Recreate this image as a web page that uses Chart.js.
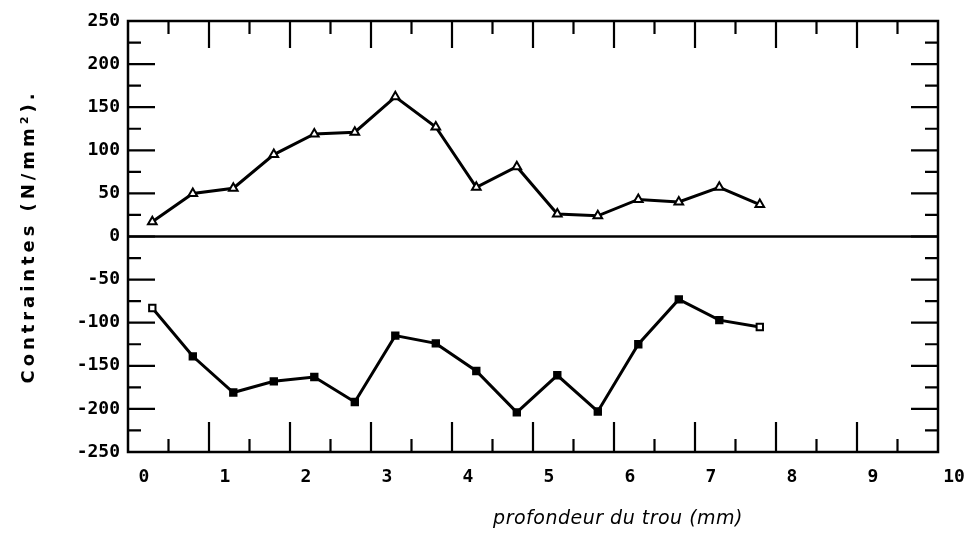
<!DOCTYPE html>
<html lang="fr">
<head>
  <meta charset="UTF-8">
  <title>Contraintes - profondeur du trou</title>
  <script src="https://cdn.jsdelivr.net/npm/chart.js"></script>
  <style>
    html, body { margin: 0; padding: 0; background: #fff; }
    #wrap { width: 966px; height: 537px; }
  </style>
</head>
<body>
  <div id="wrap"><canvas id="graphe" width="966" height="537"></canvas></div>

  <script>
    // valeurs
    const profondeur = [0.3, 0.8, 1.3, 1.8, 2.3, 2.8, 3.3, 3.8, 4.3, 4.8, 5.3, 5.8, 6.3, 6.8, 7.3, 7.8];
    const contraintesHaut = [17, 50, 56, 95, 119, 121, 162, 127, 57, 81, 26, 24, 43, 40, 57, 37];
    const contraintesBas = [-83, -139, -181, -168, -163, -192, -115, -124, -156, -204, -161, -203, -125, -73, -97, -105];
    const xMin = 0, xMax = 10, xPas = 1;
    const yMin = -250, yMax = 250, yPas = 50;
    const titreX = "profondeur du trou (mm)";
    const titreY = "Contraintes (N/mm²).";

    const points = (ys) => profondeur.map((x, i) => ({ x: x, y: ys[i] }));

    // cadre, petites graduations vers l'intérieur, ligne du zéro et titres
    const cadre = {
      id: "cadre",
      beforeDatasetsDraw(chart) {
        const { ctx, chartArea: a, scales } = chart;
        const sx = scales.x, sy = scales.y;
        ctx.save();
        ctx.strokeStyle = "#000";
        ctx.lineCap = "butt";

        ctx.lineWidth = 2.5;
        ctx.strokeRect(a.left, a.top, a.right - a.left, a.bottom - a.top);

        ctx.lineWidth = 2.5;
        const y0 = sy.getPixelForValue(0);
        ctx.beginPath();
        ctx.moveTo(a.left, y0); ctx.lineTo(a.right, y0);
        ctx.stroke();

        ctx.lineWidth = 2.2;
        ctx.beginPath();
        for (let v = yMin + yPas / 2; v < yMax; v += yPas / 2) {
          const p = sy.getPixelForValue(v);
          const long = (v % yPas === 0) ? 27 : 13;
          ctx.moveTo(a.left, p); ctx.lineTo(a.left + long, p);
          ctx.moveTo(a.right, p); ctx.lineTo(a.right - long, p);
        }
        for (let v = xMin + xPas / 2; v < xMax; v += xPas / 2) {
          const p = sx.getPixelForValue(v);
          const maj = (v % xPas === 0);
          ctx.moveTo(p, a.top); ctx.lineTo(p, a.top + (maj ? 27 : 13));
          ctx.moveTo(p, a.bottom); ctx.lineTo(p, a.bottom - (maj ? 30 : 13));
        }
        ctx.stroke();

        ctx.fillStyle = "#000";
        ctx.textBaseline = "middle";
        ctx.textAlign = "center";

        ctx.font = "italic 19px 'DejaVu Sans'";
        ctx.letterSpacing = "0.5px";
        ctx.fillText(titreX, sx.getPixelForValue(6.05), 519);

        ctx.translate(29, (a.top + a.bottom) / 2);
        ctx.rotate(-Math.PI / 2);
        ctx.font = "bold 18px 'DejaVu Sans'";
        ctx.letterSpacing = "0px";
        const w = ctx.measureText(titreY).width;
        const esp = Math.max(0, (290 - w) / (titreY.length - 1));
        ctx.letterSpacing = esp + "px";
        ctx.fillText(titreY, 0, 0);
        ctx.restore();
      }
    };

    const ctx = document.getElementById("graphe").getContext("2d");
    const graphe = new Chart(ctx, {
      type: "line",
      data: {
        datasets: [
          {
            label: "haut",
            data: points(contraintesHaut),
            borderColor: "#000",
            borderWidth: 3,
            pointStyle: "triangle",
            pointRadius: 5,
            pointBorderWidth: 2,
            pointBorderColor: "#000",
            pointBackgroundColor: "#fff",
            tension: 0
          },
          {
            label: "bas",
            data: points(contraintesBas),
            borderColor: "#000",
            borderWidth: 3,
            pointStyle: "rect",
            pointRadius: 4.5,
            pointBorderWidth: 2,
            pointBorderColor: "#000",
            pointBackgroundColor: (c) => (c.dataIndex === 0 || c.dataIndex === profondeur.length - 1) ? "#fff" : "#000",
            tension: 0
          }
        ]
      },
      options: {
        responsive: false,
        animation: false,
        layout: { padding: { top: 21, right: 28, left: 0, bottom: 0 } },
        plugins: {
          legend: { display: false },
          tooltip: { enabled: false }
        },
        scales: {
          x: {
            type: "linear",
            min: xMin,
            max: xMax,
            grid: { display: false, drawTicks: false },
            border: { display: false },
            ticks: {
              stepSize: xPas,
              padding: 15,
              labelOffset: 16,
              color: "#000",
              font: { family: "'DejaVu Sans Mono'", weight: "bold", size: 18 }
            },
            afterFit(s) { s.height = 85; }
          },
          y: {
            type: "linear",
            min: yMin,
            max: yMax,
            grid: { display: false, drawTicks: false },
            border: { display: false },
            ticks: {
              stepSize: yPas,
              padding: 8,
              color: "#000",
              font: { family: "'DejaVu Sans Mono'", weight: "bold", size: 18 }
            },
            afterFit(s) { s.width = 128; }
          }
        }
      },
      plugins: [cadre]
    });
  </script>
</body>
</html>
